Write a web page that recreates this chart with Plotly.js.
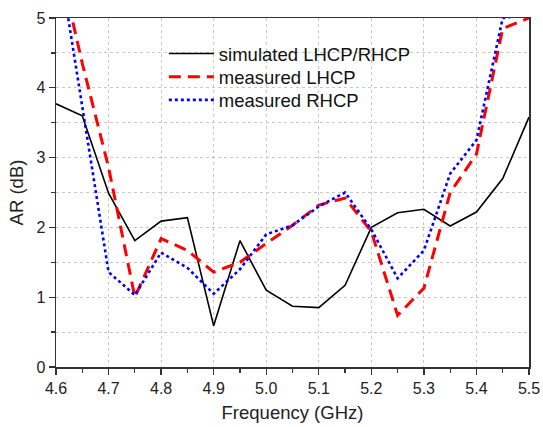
<!DOCTYPE html>
<html>
<head>
<meta charset="utf-8">
<script src="https://cdn.plot.ly/plotly-3.0.1.min.js"></script>
<style>html,body{margin:0;padding:0;background:#fff;}#chart{width:543px;height:427px;}</style>
</head>
<body>
<div id="chart"></div>
<script>
var freq = [4.6, 4.65, 4.7, 4.75, 4.8, 4.85, 4.9, 4.95, 5.0, 5.05, 5.1, 5.15, 5.2, 5.25, 5.3, 5.35, 5.4, 5.45, 5.5];
var simulated = [3.77, 3.6, 2.49, 1.81, 2.09, 2.14, 0.59, 1.81, 1.10, 0.87, 0.85, 1.17, 2.0, 2.21, 2.26, 2.02, 2.22, 2.70, 3.58];
var measuredLHCP = [6.0, 4.35, 2.86, 1.0, 1.84, 1.67, 1.36, 1.5, 1.77, 2.03, 2.32, 2.42, 1.94, 0.74, 1.13, 2.5, 3.05, 4.85, 5.0];
var measuredRHCP = [6.1, 3.72, 1.36, 1.03, 1.64, 1.42, 1.05, 1.4, 1.9, 2.03, 2.3, 2.5, 1.97, 1.27, 1.67, 2.77, 3.25, 5.0, 5.05];
var names = ["simulated LHCP/RHCP", "measured LHCP", "measured RHCP"];

var traces = [
  {x: freq, y: simulated, name: names[0], legend: "legend", mode: "lines", line: {color: "#000000", width: 1.6}},
  {x: freq, y: measuredLHCP, name: names[1], legend: "legend2", mode: "lines", line: {color: "#ff0000", width: 3, dash: "12px,7px"}},
  {x: freq, y: measuredRHCP, name: names[2], legend: "legend3", mode: "lines", line: {color: "#0000ff", width: 2.6, dash: "dot"}}
];

var font = "Liberation Sans, Arial, sans-serif";
var legendFont = {family: font, size: 18.5, color: "#111"};
function leg(y) {
  return {x: 0.228, y: y, xanchor: "left", yanchor: "middle", bgcolor: "rgba(0,0,0,0)",
          font: legendFont, itemwidth: 45};
}

var axisCommon = {
  showline: true, linecolor: "#333", linewidth: 1.5, mirror: true,
  ticks: "outside", ticklen: 6, tickwidth: 1.3, tickcolor: "#333",
  showgrid: true, gridcolor: "#c8c8c8", griddash: "dot", gridwidth: 1,
  zeroline: false,
  tickfont: {family: font, size: 16, color: "#222"}
};

var layout = {
  width: 543, height: 427,
  margin: {l: 56, r: 14, t: 18, b: 60},
  paper_bgcolor: "#fff", plot_bgcolor: "#fff",
  showlegend: true,
  legend: leg(0.897),
  legend2: leg(0.830),
  legend3: leg(0.764),
  xaxis: Object.assign({}, axisCommon, {
    range: [4.6, 5.5], dtick: 0.1, tick0: 4.6, tickformat: ".1f",
    minor: {dtick: 0.05, ticks: "outside", ticklen: 4, tickcolor: "#333", showgrid: false},
    title: {text: "Frequency (GHz)", font: {family: font, size: 18.5, color: "#222"}, standoff: 10}
  }),
  yaxis: Object.assign({}, axisCommon, {
    range: [0, 5], dtick: 1, tick0: 0,
    minor: {dtick: 0.5, ticks: "outside", ticklen: 4, tickcolor: "#333", showgrid: true, gridcolor: "#c8c8c8", griddash: "dot"},
    title: {text: "AR (dB)", font: {family: font, size: 18.5, color: "#222"}, standoff: 8}
  })
};

Plotly.newPlot("chart", traces, layout, {displayModeBar: false, staticPlot: true});
</script>
</body>
</html>
